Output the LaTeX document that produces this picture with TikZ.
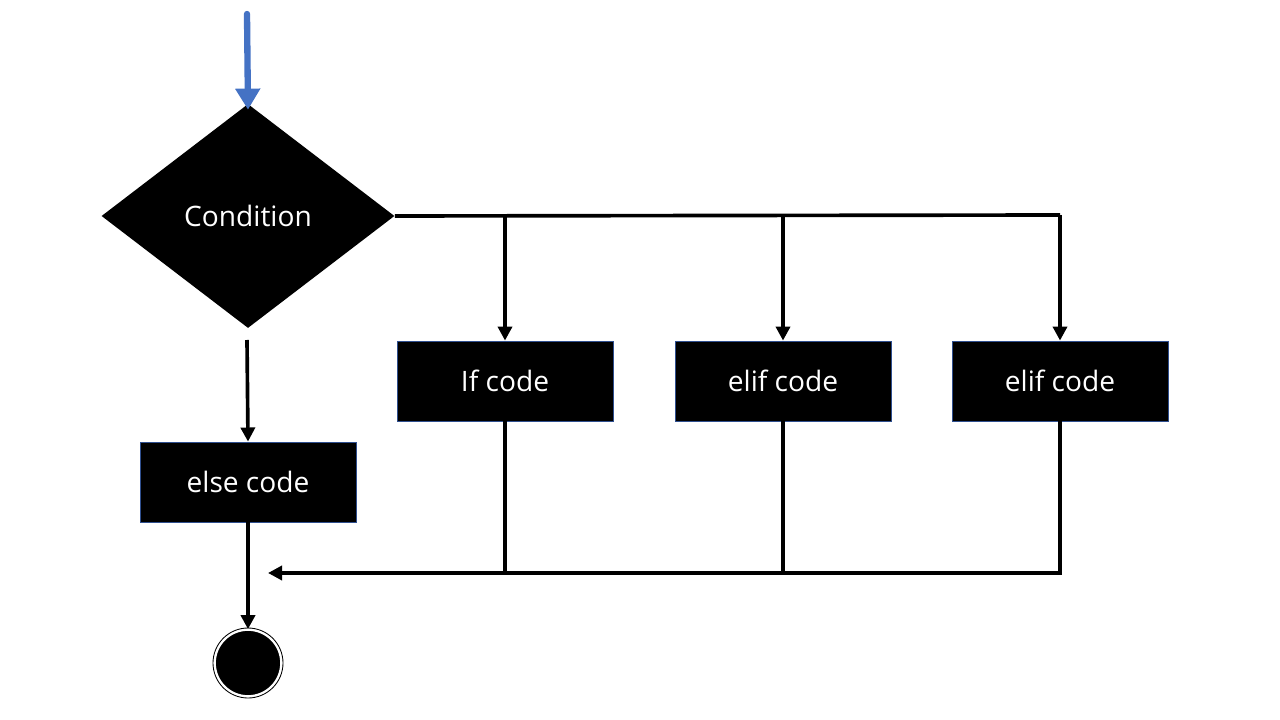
\documentclass[tikz,border=0pt]{standalone}
\usepackage{fontspec}
\setmainfont{Open Sans}
\usetikzlibrary{arrows.meta,shapes.geometric}
\definecolor{flowblue}{HTML}{4472C4}
\definecolor{boxedge}{HTML}{2F4F8F}
\begin{document}
\begin{tikzpicture}[x=0.025cm,y=-0.025cm,
  labelfont/.style={font=\fontsize{20}{22}\selectfont},
  codebox/.style={draw=boxedge,line width=0.6pt,fill=black,text=white,
    minimum width=216*0.025cm,minimum height=80*0.025cm,inner sep=0pt,labelfont},
  flow/.style={line width=2.6pt,-{Triangle[length=10pt,width=10pt]}},
  plain/.style={line width=2.6pt}]
\useasboundingbox (0,0) rectangle (1280,720);

% decision
\node[diamond,fill=black,text=white,inner sep=0pt,
  minimum width=293*0.025cm,minimum height=224*0.025cm,aspect=1.31,
  labelfont] (cond) at (248,216) {Condition};

% branch bodies
\node[codebox] (ifc) at (505,381) {If code};
\node[codebox] (elif1) at (783,381) {elif code};
\node[codebox] (elif2) at (1060,381) {elif code};
\node[codebox] (elsec) at (248,482) {else code};

% end marker
\node[circle,fill=black,draw=white,line width=1.2pt,minimum size=66*0.025cm,inner sep=0pt] (endc) at (248,663) {};
\draw[line width=0.6pt] (endc.center) circle (35);

% entry arrow
\coordinate (start) at (247,14);
\draw[line width=4.5pt,flowblue,line cap=round,-{Triangle[length=15pt,width=17pt]}] (start) -- ([yshift=-6*0.025cm]cond.north);

% condition to branches
\coordinate (bus1) at (505,215);
\coordinate (bus2) at (783,215);
\coordinate (bus3) at (1060,215);
\draw[plain] (cond.east) -- (bus3);
\draw[flow] (bus1) -- (ifc.north);
\draw[flow] (bus2) -- (elif1.north);
\draw[flow] (bus3) -- (elif2.north);

% else branch
\coordinate (elsetop) at (247,340);
\draw[flow] (elsetop) -- (elsec.north);
\draw[flow] (elsec.south) -- (endc.north);

% merge back
\coordinate (m1) at (505,573);
\coordinate (m2) at (783,573);
\coordinate (m3) at (1060,573);
\coordinate (mend) at (268,573);
\draw[plain] (ifc.south) -- (m1);
\draw[plain] (elif1.south) -- (m2);
\draw[flow] (elif2.south) -- (m3) -- (mend);
\end{tikzpicture}
\end{document}
